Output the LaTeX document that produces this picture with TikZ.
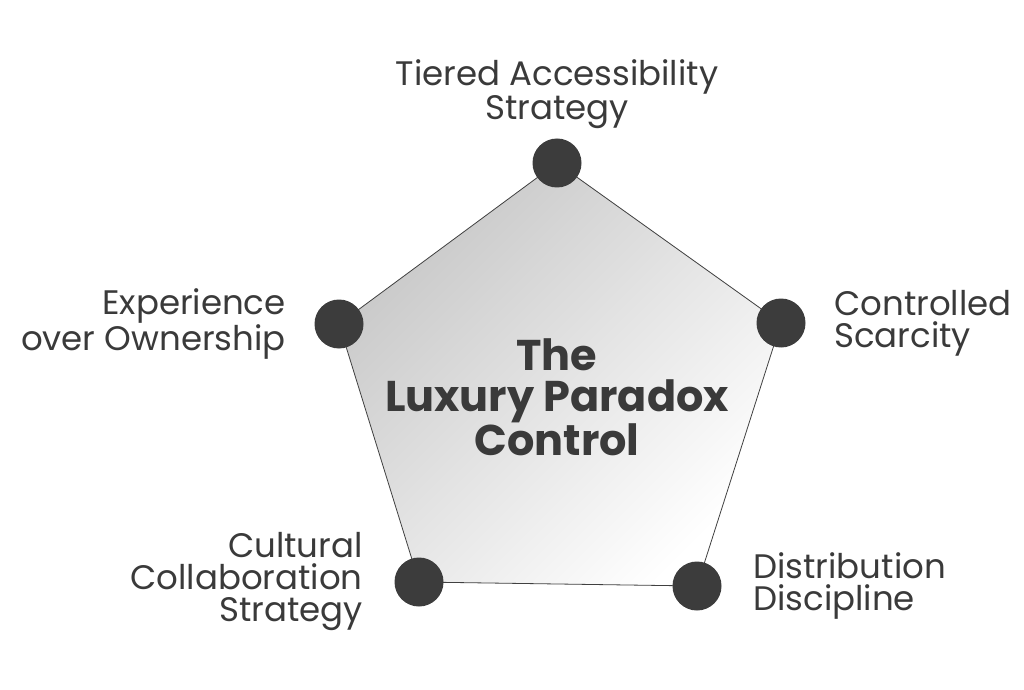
\documentclass[tikz,border=0pt]{standalone}
\usepackage{fontspec}
\setsansfont{Poppins}
\usetikzlibrary{positioning}

\begin{document}
\begin{tikzpicture}[x=1pt,y=1pt,
  thick,
  dot/.style={circle,fill=dotgray,inner sep=0pt,minimum size=49pt},
  label text/.style={font=\sffamily\fontsize{34}{32}\selectfont,text=textgray,inner sep=0pt},
  title text/.style={font=\sffamily\bfseries\fontsize{43}{41}\selectfont,text=textgray,align=center,inner sep=0pt}]
  \definecolor{dotgray}{HTML}{3C3C3C}
  \definecolor{textgray}{HTML}{3A3A3A}
  \useasboundingbox (0,0) rectangle (1024,689);

  \coordinate (p1) at (557,526);
  \coordinate (p2) at (781,366);
  \coordinate (p3) at (697,103);
  \coordinate (p4) at (419,107);
  \coordinate (p5) at (339,365);

  \shade[draw=black!75,line width=0.8pt,left color=black!22,right color=white,shading angle=45]
    (p1) -- (p2) -- (p3) -- (p4) -- (p5) -- cycle;

  \node[dot] (1) at (p1) {};
  \node[dot] (2) at (p2) {};
  \node[dot] (3) at (p3) {};
  \node[dot] (4) at (p4) {};
  \node[dot] (5) at (p5) {};

  \node[title text] (title) at (557,292) {The\\Luxury Paradox\\Control};

  \node[label text,align=center,above=9pt of 1] (l1) {Tiered Accessibility\\Strategy};
  \node[label text,align=left,right=28pt of 2] (l2) {Controlled\\Scarcity};
  \node[label text,align=left,right=31pt of 3] (l3) {Distribution\\Discipline};
  \node[label text,align=right,left=31pt of 4] (l4) {Cultural\\Collaboration\\Strategy};
  \node[label text,align=right,left=28pt of 5] (l5) {Experience\\over Ownership};
\end{tikzpicture}
\end{document}
